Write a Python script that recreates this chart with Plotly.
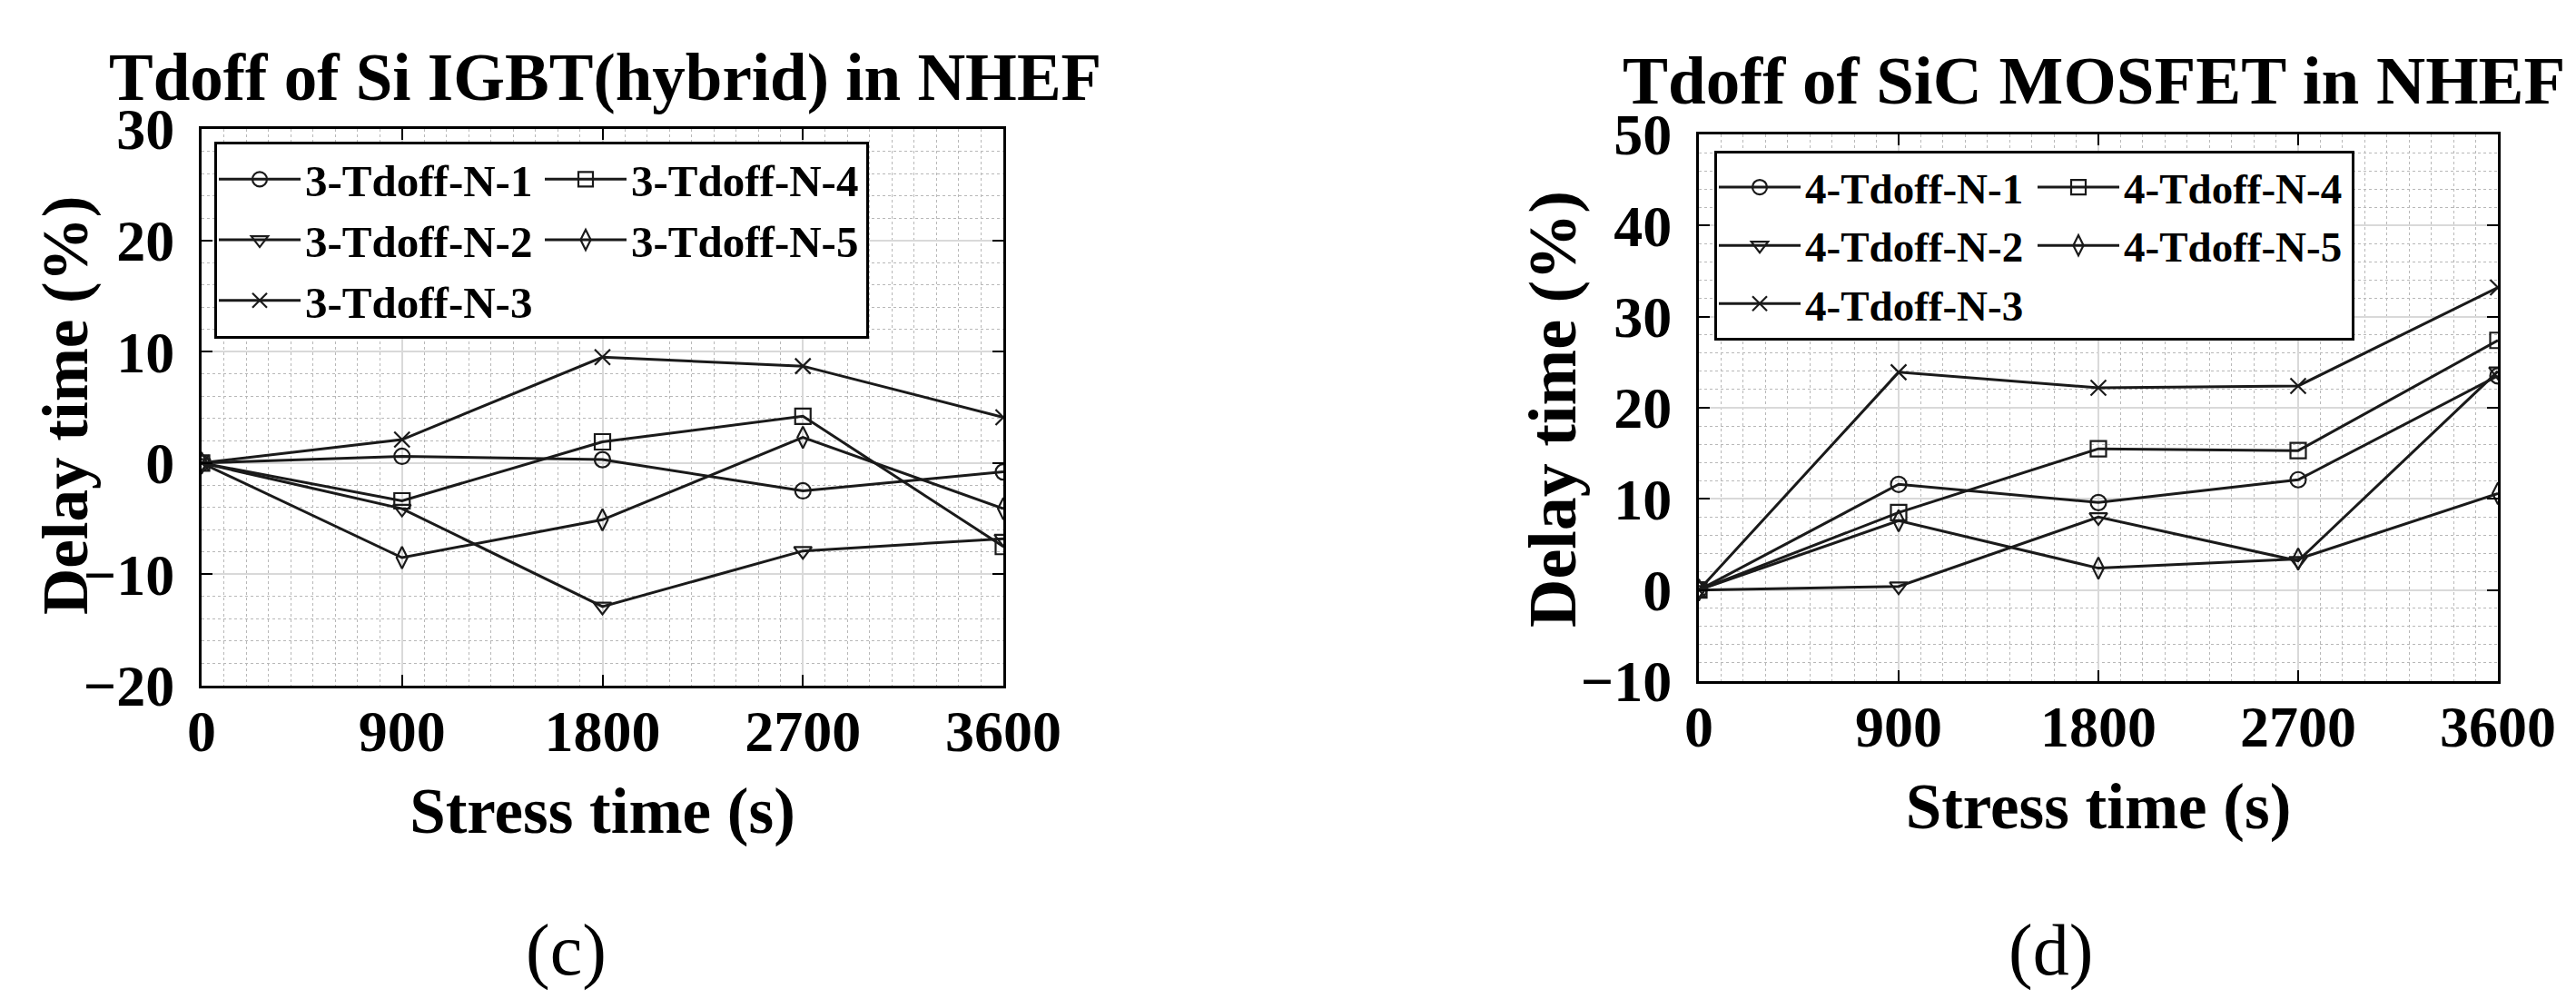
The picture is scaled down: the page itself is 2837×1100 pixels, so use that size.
import plotly.graph_objects as go

W, H = 2837, 1100

stress_time = [0, 900, 1800, 2700, 3600]
x_tick_labels = ["0", "900", "1800", "2700", "3600"]

# (c) Si IGBT (hybrid)
si_names = ["3-Tdoff-N-1", "3-Tdoff-N-2", "3-Tdoff-N-3", "3-Tdoff-N-4", "3-Tdoff-N-5"]
si_n1 = [0, 0.6, 0.3, -2.5, -0.8]
si_n2 = [0, -4.1, -12.9, -7.9, -6.8]
si_n3 = [0, 2.1, 9.5, 8.7, 4.1]
si_n4 = [0, -3.4, 1.9, 4.2, -7.5]
si_n5 = [0, -8.5, -5.1, 2.3, -4.1]

# (d) SiC MOSFET
sic_names = ["4-Tdoff-N-1", "4-Tdoff-N-2", "4-Tdoff-N-3", "4-Tdoff-N-4", "4-Tdoff-N-5"]
sic_n1 = [0, 11.6, 9.6, 12.1, 23.5]
sic_n2 = [0, 0.4, 8.0, 3.2, 24.0]
sic_n3 = [0, 23.9, 22.2, 22.4, 33.2]
sic_n4 = [0, 8.5, 15.5, 15.3, 27.4]
sic_n5 = [0, 7.6, 2.4, 3.4, 10.6]

symbols = ["circle-open", "triangle-down-open", "x-thin-open", "square-open", "diamond-tall-open"]
groups = ["a", "a", "a", "b", "b"]

FONT = "Liberation Serif"
LINE_C = "#1a1a1a"

fig = go.Figure()

def add_series(names, series, xa, ya, legend):
    for name, ys, sym, grp in zip(names, series, symbols, groups):
        fig.add_trace(go.Scatter(
            x=stress_time, y=ys, name=name, mode="lines+markers",
            xaxis=xa, yaxis=ya, legend=legend, legendgroup=legend + grp,
            line=dict(color=LINE_C, width=3),
            marker=dict(symbol=sym, size=17, color=LINE_C, line=dict(width=2.2, color=LINE_C)),
        ))

add_series(si_names, [si_n1, si_n2, si_n3, si_n4, si_n5], "x", "y", "legend")
add_series(sic_names, [sic_n1, sic_n2, sic_n3, sic_n4, sic_n5], "x2", "y2", "legend2")

def xaxis_cfg(domain):
    return dict(
        domain=domain, range=[0, 3600], tickmode="array", tickvals=stress_time,
        ticktext=x_tick_labels, ticks="inside", ticklen=12, tickwidth=2, tickcolor="black",
        showline=True, linecolor="black", linewidth=3, mirror="ticks",
        showgrid=True, gridcolor="#d9d9d9", gridwidth=2,
        minor=dict(dtick=100, showgrid=True, gridcolor="#b8b8b8", griddash="dot", gridwidth=1),
        tickfont=dict(family=FONT, size=64, color="black", weight="bold"),
        ticklabelstandoff=-8,
        title=dict(text="<b>Stress time (s)</b>", font=dict(family=FONT, size=71, color="black"),
                   standoff=28),
        zeroline=False,
    )

def yaxis_cfg(domain, rng, anchor):
    return dict(
        domain=domain, range=rng, dtick=10, anchor=anchor,
        ticks="inside", ticklen=12, tickwidth=2, tickcolor="black",
        showline=True, linecolor="black", linewidth=3, mirror="ticks",
        showgrid=True, gridcolor="#d9d9d9", gridwidth=2,
        minor=dict(dtick=2, showgrid=True, gridcolor="#b8b8b8", griddash="dot", gridwidth=1),
        tickfont=dict(family=FONT, size=64, color="black", weight="bold"),
        ticklabelstandoff=14,
        zeroline=False,
    )

legend_common = dict(
    orientation="h", traceorder="grouped", bgcolor="white", bordercolor="black",
    borderwidth=3, xanchor="left", yanchor="top", itemwidth=90, tracegroupgap=0,
)

def label(text, x, y, size, angle=0):
    return dict(text=text, x=x / W, y=1 - y / H, xref="paper", yref="paper",
                xanchor="center", yanchor="middle", showarrow=False, textangle=angle,
                font=dict(family=FONT, size=size, color="black"))

fig.update_layout(
    width=W, height=H, paper_bgcolor="white", plot_bgcolor="white",
    margin=dict(l=0, r=0, t=0, b=0, autoexpand=False),
    showlegend=True,
    xaxis=xaxis_cfg([214 / W, 1097 / W]) | dict(anchor="y"),
    yaxis=yaxis_cfg([1 - 747 / H, 1 - 134 / H], [-20, 30], "x"),
    xaxis2=xaxis_cfg([1863 / W, 2743 / W]) | dict(anchor="y2"),
    yaxis2=yaxis_cfg([1 - 742 / H, 1 - 140 / H], [-10, 50], "x2"),
    legend=legend_common | dict(
        x=228 / W, y=1 - 148 / H, entrywidth=254,
        font=dict(family=FONT, size=49, color="black", weight="bold")),
    legend2=legend_common | dict(
        x=1880 / W, y=1 - 158 / H, entrywidth=246,
        font=dict(family=FONT, size=47, color="black", weight="bold")),
    annotations=[
        label("<b>Tdoff of Si IGBT(hybrid) in NHEF</b>", 658, 77, 73),
        label("<b>Tdoff of SiC MOSFET in NHEF</b>", 2298, 80, 75),
        label("<b>Delay time (%)</b>", 64, 439, 71, -90),
        label("<b>Delay time (%)</b>", 1702, 443, 74, -90),
        label("(c)", 615, 1038, 80),
        label("(d)", 2250, 1038, 80),
    ],
)

fig.write_html("out.html")
